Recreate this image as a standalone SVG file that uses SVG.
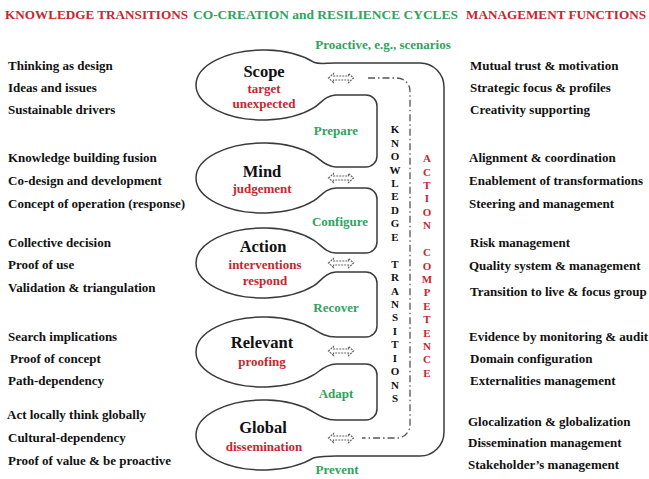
<svg xmlns="http://www.w3.org/2000/svg" xmlns:xlink="http://www.w3.org/1999/xlink" width="649" height="479" viewBox="0 0 649 479">
<style>
text{font-family:"Liberation Serif","Times New Roman",serif;font-weight:bold}
.hr{fill:#c9252f;font-size:13px}
.hg{fill:#2fa35e;font-size:13px}
.g{fill:#2fa35e;font-size:13px;text-anchor:middle}
.t{fill:#111;font-size:16.5px;text-anchor:middle}
.r{fill:#c9252f;font-size:13px;text-anchor:middle}
.c{fill:#111;font-size:13px}
.vk{fill:#111;font-size:11px;text-anchor:middle}
.va{fill:#c9252f;font-size:11px;text-anchor:middle}
.node{fill:#fff;stroke:#3a3a3a;stroke-width:1.5}
.loop{fill:none;stroke:#3a3a3a;stroke-width:1.5}
.dd{fill:none;stroke:#555;stroke-width:1.3;stroke-dasharray:7 3 1.5 3}
.arr{fill:#fff;stroke:#666;stroke-width:1.2;stroke-dasharray:2 1}
</style>
<defs>
<path id="darr" d="M-12.5,0 L-7.5,-4.5 L-7.5,-2 L7.5,-2 L7.5,-4.5 L12.5,0 L7.5,4.5 L7.5,2 L-7.5,2 L-7.5,4.5 Z"/>
</defs>
<rect width="649" height="479" fill="#fff"/>
<g id="headers">
<text class="hr" x="5" y="19" textLength="183" lengthAdjust="spacingAndGlyphs">KNOWLEDGE TRANSITIONS</text>
<text class="hg" x="193" y="19" textLength="265" lengthAdjust="spacingAndGlyphs">CO-CREATION and RESILIENCE CYCLES</text>
<text class="hr" x="466" y="19" textLength="180" lengthAdjust="spacingAndGlyphs">MANAGEMENT FUNCTIONS</text>
</g>
<g id="node-scope">
<path class="node" d="M336,63 C326,63 319,64.5 314,62.3 A67,35 0 1 0 314,107.7 C320,104 326,95 336,95"/>
<text class="t" x="264" y="77">Scope</text>
<text class="r" x="264" y="93">target</text>
<text class="r" x="264" y="108">unexpected</text>
</g>
<g id="node-mind">
<path class="node" d="M336,167 C326,167 320,159 314,155.3 A67,35 0 1 0 314,200.7 C320,197 326,188 336,188"/>
<text class="t" x="262" y="177">Mind</text>
<text class="r" x="262" y="193">judgement</text>
</g>
<g id="node-action">
<path class="node" d="M336,253 C326,253 320,244 314,240.3 A67,35 0 1 0 314,285.7 C320,282 326,272 336,272"/>
<text class="t" x="263" y="252">Action</text>
<text class="r" x="265" y="269">interventions</text>
<text class="r" x="265" y="285">respond</text>
</g>
<g id="node-relevant">
<path class="node" d="M336,337 C326,337 320,333 314,329.3 A67,35 0 1 0 314,374.7 C320,371 326,364 336,364"/>
<text class="t" x="262" y="348">Relevant</text>
<text class="r" x="262" y="366">proofing</text>
</g>
<g id="node-global">
<path class="node" d="M336,420 C326,420 320,416 314,412.3 A67,35 0 1 0 314,457.7 C320,456.5 326,456 336,456"/>
<text class="t" x="263" y="433">Global</text>
<text class="r" x="264" y="451">dissemination</text>
</g>
<g id="connectors">
<path class="loop" d="M336,63 H420 A24,24 0 0 1 444,87 V432 A24,24 0 0 1 420,456 H336"/>
<path class="loop" d="M336,95 H366 A11,11 0 0 1 377,106 V156 A11,11 0 0 1 366,167 H336"/>
<path class="loop" d="M336,188 H366 A11,11 0 0 1 377,199 V242 A11,11 0 0 1 366,253 H336"/>
<path class="loop" d="M336,272 H366 A11,11 0 0 1 377,283 V326 A11,11 0 0 1 366,337 H336"/>
<path class="loop" d="M336,364 H366 A11,11 0 0 1 377,375 V409 A11,11 0 0 1 366,420 H336"/>
<path class="dd" d="M368,78 H397 A13,13 0 0 1 410,91 V425 A13,13 0 0 1 397,438 H362"/>
<use xlink:href="#darr" class="arr" transform="translate(341,78)"/>
<use xlink:href="#darr" class="arr" transform="translate(341,178)"/>
<use xlink:href="#darr" class="arr" transform="translate(341,263)"/>
<use xlink:href="#darr" class="arr" transform="translate(341,351)"/>
<use xlink:href="#darr" class="arr" transform="translate(341,438)"/>
</g>
<g id="cycle-labels">
<text class="g" x="383" y="49">Proactive, e.g., scenarios</text>
<text class="g" x="336" y="135">Prepare</text>
<text class="g" x="340" y="226">Configure</text>
<text class="g" x="336" y="312">Recover</text>
<text class="g" x="336" y="398">Adapt</text>
<text class="g" x="337" y="474">Prevent</text>
</g>
<g id="knowledge-transitions">
<text class="vk" x="395" y="133">K</text>
<text class="vk" x="395" y="146.5">N</text>
<text class="vk" x="395" y="160">O</text>
<text class="vk" x="395" y="173.5">W</text>
<text class="vk" x="395" y="187">L</text>
<text class="vk" x="395" y="200">E</text>
<text class="vk" x="395" y="213.5">D</text>
<text class="vk" x="395" y="227">G</text>
<text class="vk" x="395" y="240.5">E</text>
<text class="vk" x="395" y="267.5">T</text>
<text class="vk" x="395" y="281">R</text>
<text class="vk" x="395" y="294.5">A</text>
<text class="vk" x="395" y="308">N</text>
<text class="vk" x="395" y="321">S</text>
<text class="vk" x="395" y="334.5">I</text>
<text class="vk" x="395" y="348">T</text>
<text class="vk" x="395" y="361.5">I</text>
<text class="vk" x="395" y="375">O</text>
<text class="vk" x="395" y="388.5">N</text>
<text class="vk" x="395" y="402">S</text>
</g>
<g id="action-competence">
<text class="va" x="427" y="162">A</text>
<text class="va" x="427" y="175.5">C</text>
<text class="va" x="427" y="189">T</text>
<text class="va" x="427" y="202">I</text>
<text class="va" x="427" y="215.5">O</text>
<text class="va" x="427" y="229">N</text>
<text class="va" x="427" y="256">C</text>
<text class="va" x="427" y="269.5">O</text>
<text class="va" x="427" y="283">M</text>
<text class="va" x="427" y="296">P</text>
<text class="va" x="427" y="309.5">E</text>
<text class="va" x="427" y="323">T</text>
<text class="va" x="427" y="336.5">E</text>
<text class="va" x="427" y="350">N</text>
<text class="va" x="427" y="363">C</text>
<text class="va" x="427" y="376.5">E</text>
</g>
<g id="knowledge-column">
<text class="c" x="8" y="70">Thinking as design</text>
<text class="c" x="8" y="92">Ideas and issues</text>
<text class="c" x="8" y="114">Sustainable drivers</text>
<text class="c" x="8" y="162">Knowledge building fusion</text>
<text class="c" x="8" y="185">Co-design and development</text>
<text class="c" x="8" y="208">Concept of operation (response)</text>
<text class="c" x="8" y="247">Collective decision</text>
<text class="c" x="8" y="269">Proof of use</text>
<text class="c" x="8" y="292">Validation &amp; triangulation</text>
<text class="c" x="8" y="341">Search implications</text>
<text class="c" x="10" y="363">Proof of concept</text>
<text class="c" x="8" y="385">Path-dependency</text>
<text class="c" x="7" y="419">Act locally think globally</text>
<text class="c" x="8" y="442">Cultural-dependency</text>
<text class="c" x="8" y="465">Proof of value &amp; be proactive</text>
</g>
<g id="management-column">
<text class="c" x="470" y="70">Mutual trust &amp; motivation</text>
<text class="c" x="470" y="92">Strategic focus &amp; profiles</text>
<text class="c" x="470" y="114">Creativity supporting</text>
<text class="c" x="469" y="162">Alignment &amp; coordination</text>
<text class="c" x="469" y="185">Enablement of transformations</text>
<text class="c" x="469" y="208">Steering and management</text>
<text class="c" x="470" y="247">Risk management</text>
<text class="c" x="469" y="270">Quality system &amp; management</text>
<text class="c" x="470" y="296">Transition to live &amp; focus group</text>
<text class="c" x="469" y="341">Evidence by monitoring &amp; audit</text>
<text class="c" x="470" y="363">Domain configuration</text>
<text class="c" x="470" y="385">Externalities management</text>
<text class="c" x="468" y="426">Glocalization &amp; globalization</text>
<text class="c" x="468" y="447">Dissemination management</text>
<text class="c" x="468" y="469">Stakeholder’s management</text>
</g>
</svg>
